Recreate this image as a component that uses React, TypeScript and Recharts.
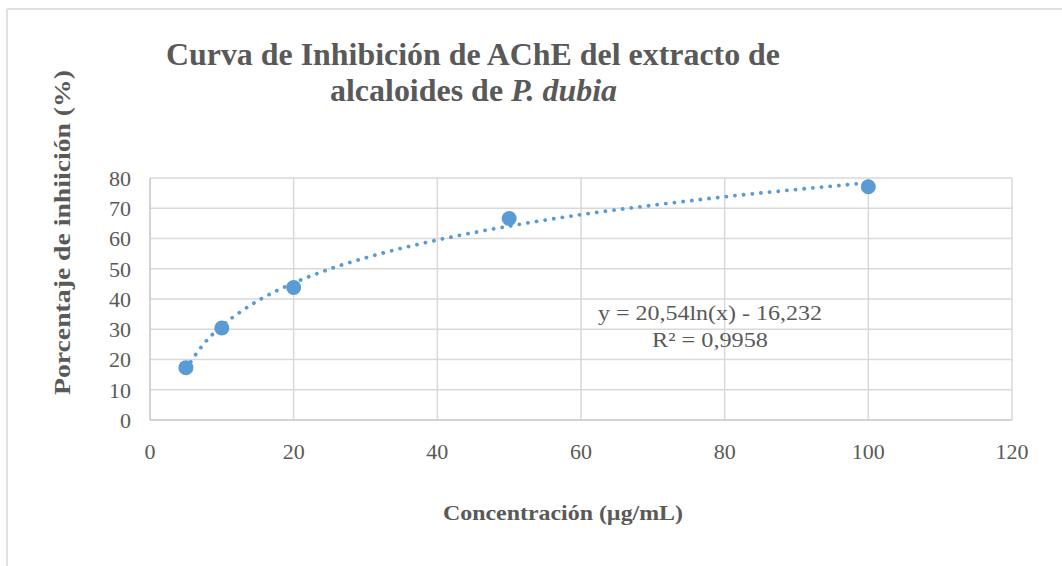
import React from 'react';
import { ComposedChart, Scatter, Line, XAxis, YAxis, CartesianGrid } from 'recharts';

const concentrations = [5, 10, 20, 50, 100];
const inhibition = [17.3, 30.4, 43.8, 66.6, 77.1];

const trendX = [5, 7.5, 10, 12.5, 15, 20, 25, 30, 40, 50, 60, 70, 80, 90, 100];
const trendY = [16.8, 25.2, 31.1, 35.6, 39.4, 45.3, 49.9, 53.6, 59.5, 64.1, 67.9, 71.0, 73.8, 76.2, 78.4];

const xTicks = [0, 20, 40, 60, 80, 100, 120];
const yTicks = [0, 10, 20, 30, 40, 50, 60, 70, 80];

const titleLine1 = 'Curva de Inhibición de AChE del extracto de';
const titleLine2a = 'alcaloides de ';
const titleLine2b = 'P. dubia';
const yLabel = 'Porcentaje de inhiición (%)';
const xLabel = 'Concentración (µg/mL)';
const eqLine1 = 'y = 20,54ln(x) - 16,232';
const eqLine2 = 'R² = 0,9958';

const points = concentrations.map((x, i) => ({ x, y: inhibition[i] }));
const trend = trendX.map((x, i) => ({ x, y: trendY[i] }));

const BLUE = '#5b9bd5';
const TEXT = '#595959';
const GRID = '#d9d9d9';
const FONT = '"Liberation Serif", "Times New Roman", serif';

export default function App() {
  return (
    <div style={{ position: 'absolute', left: 0, top: 0, width: 1062, height: 566, background: '#fff' }}>
      <ComposedChart
        width={1062}
        height={566}
        margin={{ top: 178, right: 50, bottom: 116, left: 0 }}
      >
        <CartesianGrid stroke={GRID} strokeWidth={1.5} />
        <XAxis
          type="number"
          dataKey="x"
          domain={[0, 120]}
          ticks={xTicks}
          interval={0}
          height={30}
          tickLine={false}
          tickSize={0}
          tickMargin={23}
          axisLine={{ stroke: '#cfcfcf', strokeWidth: 1.5 }}
          tick={{ fill: TEXT, fontSize: 22, fontFamily: FONT }}
          allowDataOverflow
        />
        <YAxis
          type="number"
          dataKey="y"
          domain={[0, 80]}
          ticks={yTicks}
          interval={0}
          width={150}
          tickLine={false}
          tickSize={0}
          tickMargin={19}
          axisLine={{ stroke: '#cfcfcf', strokeWidth: 1.5 }}
          tick={{ fill: TEXT, fontSize: 22, fontFamily: FONT }}
          allowDataOverflow
        />
        <Line
          data={trend}
          dataKey="y"
          type="monotone"
          stroke={BLUE}
          strokeWidth={3.8}
          strokeDasharray="0.1 8.6"
          strokeLinecap="round"
          dot={false}
          activeDot={false}
          isAnimationActive={false}
        />
        <Scatter
          data={points}
          dataKey="y"
          fill={BLUE}
          isAnimationActive={false}
          shape={(p: any) => <circle cx={p.cx} cy={p.cy} r={7.5} fill={BLUE} />}
        />
      </ComposedChart>
      <svg
        width={1062}
        height={566}
        style={{ position: 'absolute', left: 0, top: 0, pointerEvents: 'none' }}
      >
        <line x1={7} y1={9} x2={1062} y2={9} stroke="#d9d9d9" strokeWidth={1.5} />
        <line x1={7} y1={9} x2={7} y2={566} stroke="#d9d9d9" strokeWidth={1.5} />
        <text
          x={166}
          y={65}
          fontFamily={FONT}
          fontWeight="bold"
          fontSize={32}
          fill={TEXT}
          textLength={614}
          lengthAdjust="spacingAndGlyphs"
        >
          {titleLine1}
        </text>
        <text
          x={330}
          y={101}
          fontFamily={FONT}
          fontWeight="bold"
          fontSize={32}
          fill={TEXT}
          textLength={287}
          lengthAdjust="spacingAndGlyphs"
        >
          {titleLine2a}
          <tspan fontStyle="italic">{titleLine2b}</tspan>
        </text>
        <text
          x={-395}
          y={0}
          transform="translate(70,0) rotate(-90)"
          fontFamily={FONT}
          fontWeight="bold"
          fontSize={24}
          fill={TEXT}
          textLength={325}
          lengthAdjust="spacingAndGlyphs"
        >
          {yLabel}
        </text>
        <text
          x={443}
          y={520}
          fontFamily={FONT}
          fontWeight="bold"
          fontSize={21}
          fill={TEXT}
          textLength={240}
          lengthAdjust="spacingAndGlyphs"
        >
          {xLabel}
        </text>
        <text
          x={598}
          y={320}
          fontFamily={FONT}
          fontSize={22}
          fill={TEXT}
          textLength={224}
          lengthAdjust="spacingAndGlyphs"
        >
          {eqLine1}
        </text>
        <text
          x={652}
          y={347}
          fontFamily={FONT}
          fontSize={22}
          fill={TEXT}
          textLength={116}
          lengthAdjust="spacingAndGlyphs"
        >
          {eqLine2}
        </text>
      </svg>
    </div>
  );
}
